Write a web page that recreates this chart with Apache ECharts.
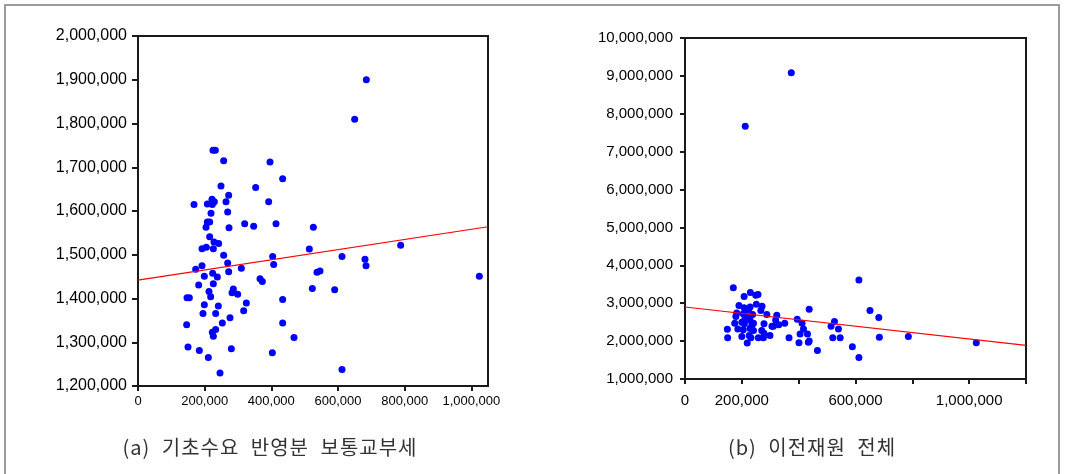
<!DOCTYPE html>
<html>
<head>
<meta charset="utf-8">
<script src="https://cdn.jsdelivr.net/npm/echarts@6/dist/echarts.min.js"></script>
<style>
  html, body { margin: 0; padding: 0; background: #fff; }
  .wrap { position: relative; width: 1068px; height: 474px; overflow: hidden; }
  .frame { position: absolute; left: 4px; top: 4px; width: 1056px; height: 480px;
    border: 2px solid #9a9a9a; box-sizing: border-box; }
  #chart { position: absolute; left: 0; top: 0; width: 1068px; height: 474px; }
  .cap { position: absolute; top: 432px; transform: translateX(-50%); white-space: nowrap;
    font-family: "Noto Sans CJK KR", sans-serif; font-size: 20px; color: #333;
    letter-spacing: 1px; word-spacing: 6px; }
</style>
</head>
<body>
<div class="wrap">
  <div class="frame"></div>
  <div id="chart"></div>
  <div class="cap" style="left:270px">(a) 기초수요 반영분 보통교부세</div>
  <div class="cap" style="left:812px">(b) 이전재원 전체</div>
</div>
<script>
// (a) 기초수요 반영분 보통교부세
const leftX = [685000, 650000, 225000, 232000, 257000, 396000, 434000, 353000, 249000, 272000,
  168000, 208000, 222000, 229000, 223000, 264000, 392000, 219000, 269000, 208000,
  215000, 204000, 273000, 320000, 347000, 414000, 526000, 215000, 228000, 242000,
  192000, 205000, 226000, 257000, 514000, 404000, 612000, 681000, 788000, 192000,
  173000, 269000, 407000, 684000, 310000, 272000, 224000, 199000, 238000, 537000,
  546000, 366000, 373000, 1024000, 182000, 226000, 523000, 590000, 213000, 286000,
  282000, 299000, 218000, 147000, 154000, 434000, 325000, 199000, 241000, 317000,
  195000, 233000, 276000, 146000, 253000, 434000, 233000, 223000, 226000, 468000,
  150000, 184000, 280000, 403000, 211000, 612000, 246000];
const leftY = [1900000, 1810000, 1739000, 1739000, 1715000, 1712000, 1674000, 1654000, 1657000, 1636000,
  1615000, 1616000, 1627000, 1621000, 1615000, 1621000, 1621000, 1595000, 1598000, 1575000,
  1575000, 1563000, 1562000, 1571000, 1565000, 1571000, 1563000, 1541000, 1529000, 1526000,
  1514000, 1517000, 1514000, 1499000, 1513000, 1496000, 1496000, 1490000, 1522000, 1475000,
  1467000, 1481000, 1478000, 1475000, 1469000, 1461000, 1458000, 1451000, 1449000, 1460000,
  1463000, 1445000, 1439000, 1451000, 1431000, 1434000, 1423000, 1420000, 1416000, 1422000,
  1413000, 1410000, 1404000, 1402000, 1402000, 1398000, 1390000, 1386000, 1383000, 1372000,
  1366000, 1366000, 1356000, 1340000, 1344000, 1344000, 1329000, 1323000, 1314000, 1311000,
  1289000, 1281000, 1285000, 1276000, 1265000, 1238000, 1230000];
const leftFitX = [0, 1050000];
const leftFitY = [1442000, 1564000];
const leftXTicks = [0, 200000, 400000, 600000, 800000, 1000000];

// (b) 이전재원 전체
const rightX = [374000, 212000, 170000, 208000, 230000, 249000, 257000, 190000, 208000, 229000,
  224000, 251000, 271000, 267000, 182000, 179000, 205000, 217000, 238000, 288000,
  323000, 319000, 437000, 175000, 200000, 209000, 229000, 241000, 278000, 306000,
  330000, 351000, 395000, 412000, 149000, 186000, 205000, 229000, 241000, 270000,
  278000, 311000, 417000, 431000, 405000, 150000, 200000, 226000, 232000, 258000,
  276000, 299000, 366000, 401000, 434000, 219000, 466000, 612000, 651000, 682000,
  526000, 514000, 540000, 520000, 546000, 684000, 786000, 589000, 612000, 1025000,
  437000, 235000, 211000];
const rightY = [9080000, 7670000, 3410000, 3180000, 3280000, 3210000, 3230000, 2940000, 2880000, 2900000,
  2830000, 2970000, 2920000, 2810000, 2740000, 2650000, 2720000, 2650000, 2700000, 2700000,
  2680000, 2560000, 2840000, 2470000, 2500000, 2460000, 2550000, 2470000, 2460000, 2390000,
  2430000, 2470000, 2580000, 2470000, 2310000, 2320000, 2300000, 2330000, 2280000, 2280000,
  2210000, 2390000, 2320000, 2190000, 2190000, 2090000, 2120000, 2150000, 2090000, 2090000,
  2090000, 2150000, 2090000, 1960000, 1970000, 1950000, 1750000, 3610000, 2810000, 2620000,
  2520000, 2390000, 2320000, 2090000, 2090000, 2100000, 2120000, 1850000, 1570000, 1960000,
  2000000, 2410000, 2590000];
const rightFitX = [0, 1200000];
const rightFitY = [2900000, 1885000];
const rightXTicks = [0, 200000, 400000, 600000, 800000, 1000000, 1200000];
const rightXLabels = [0, 200000, 600000, 1000000];

const zip = (xs, ys) => xs.map((x, i) => [x, ys[i]]);
const fmt = (v) => v.toLocaleString("en-US");

const chart = echarts.init(document.getElementById("chart"));

const lineStyle = { color: "#1a1a1a", width: 2 };
const labelBase = { color: "#000", fontFamily: "'Liberation Sans', Arial, sans-serif", formatter: fmt };

chart.setOption({
  animation: false,
  grid: [
    { left: 138, top: 36, width: 350, height: 350, show: true, borderColor: "#1a1a1a", borderWidth: 2 },
    { left: 685, top: 38, width: 341, height: 341, show: true, borderColor: "#1a1a1a", borderWidth: 2 },
  ],
  xAxis: [
    {
      gridIndex: 0, type: "value", min: 0, max: 1050000, interval: 200000,
      splitLine: { show: false },
      axisLine: { lineStyle },
      axisTick: { length: 5, lineStyle, customValues: leftXTicks },
      axisLabel: { ...labelBase, fontSize: 13, margin: 9, customValues: leftXTicks },
    },
    {
      gridIndex: 1, type: "value", min: 0, max: 1200000, interval: 200000,
      splitLine: { show: false },
      axisLine: { lineStyle },
      axisTick: { length: 5, lineStyle, customValues: rightXTicks },
      axisLabel: { ...labelBase, fontSize: 15, margin: 14, customValues: rightXLabels },
    },
  ],
  yAxis: [
    {
      gridIndex: 0, type: "value", min: 1200000, max: 2000000, interval: 100000,
      splitLine: { show: false },
      axisLine: { lineStyle },
      axisTick: { length: 6, lineStyle },
      axisLabel: { ...labelBase, fontSize: 16, margin: 11 },
    },
    {
      gridIndex: 1, type: "value", min: 1000000, max: 10000000, interval: 1000000,
      splitLine: { show: false },
      axisLine: { lineStyle },
      axisTick: { length: 5, lineStyle },
      axisLabel: { ...labelBase, fontSize: 15, margin: 12 },
    },
  ],
  series: [
    {
      type: "scatter", xAxisIndex: 0, yAxisIndex: 0, data: zip(leftX, leftY),
      symbolSize: 7, itemStyle: { color: "#0000ff", opacity: 1 },
    },
    {
      type: "line", xAxisIndex: 0, yAxisIndex: 0, data: zip(leftFitX, leftFitY),
      showSymbol: false, lineStyle: { color: "#ff0000", width: 1.2 },
    },
    {
      type: "scatter", xAxisIndex: 1, yAxisIndex: 1, data: zip(rightX, rightY),
      symbolSize: 7, itemStyle: { color: "#0000ff", opacity: 1 },
    },
    {
      type: "line", xAxisIndex: 1, yAxisIndex: 1, data: zip(rightFitX, rightFitY),
      showSymbol: false, lineStyle: { color: "#ff0000", width: 1.2 },
    },
  ],
});
</script>
</body>
</html>
